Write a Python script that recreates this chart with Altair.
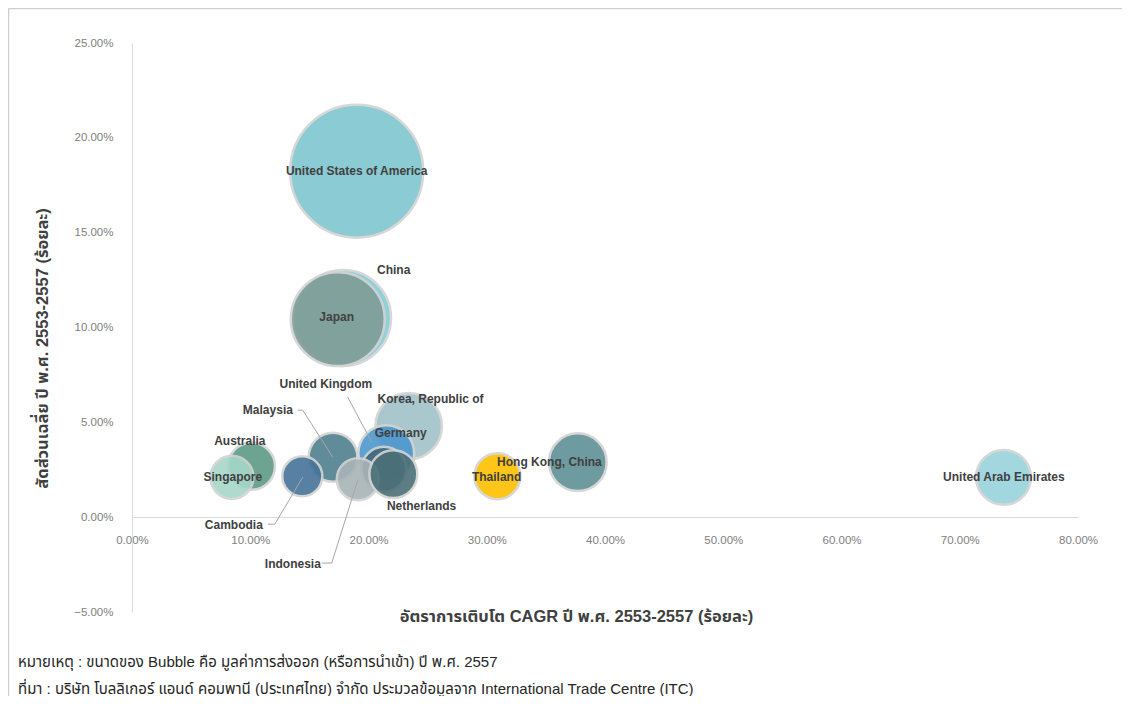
import altair as alt
import pandas as pd

# ---- data ----
countries = ["United States of America", "China", "Japan", "Korea, Republic of", "Germany",
             "Malaysia", "Cambodia", "United Kingdom", "Indonesia", "Netherlands",
             "Australia", "Singapore", "Thailand", "Hong Kong, China", "United Arab Emirates"]
cagr = [19.0, 17.85, 17.4, 23.4, 21.5, 17.0, 14.4, 21.3, 19.1, 22.1, 10.1, 8.45, 30.9, 37.7, 73.7]
share = [18.24, 10.5, 10.44, 4.8, 3.37, 3.16, 2.16, 2.53, 2.0, 2.27, 2.69, 2.1, 2.16, 2.9, 2.1]
bubble_value = [100, 51.9, 49.8, 25.0, 17.6, 13.5, 9.1, 11.4, 10.0, 13.0, 12.5, 10.5, 11.9, 18.8, 17.0]
colors = ["#7fc6cf", "#86ccd4", "#7f9c96", "#a2c1c9", "#4d97cf",
          "#4f8090", "#46739a", "#46687a", "#a8b4b7", "#4b7077",
          "#5e9a86", "#a6d8c9", "#ffc000", "#5e9196", "#98d3dd"]
label_x = [19.0, 22.13, 17.31, 25.25, 22.72, 11.49, 8.61, 16.39, 13.60, 24.49,
           9.12, 8.53, 30.83, 35.30, 73.73]
label_y = [18.24, 13.02, 10.54, 6.22, 4.43, 5.64, -0.42, 7.01, -2.48, 0.58,
           4.01, 2.11, 2.11, 2.90, 2.11]

lead_country = ["Malaysia"] * 3 + ["United Kingdom"] * 2 + ["Cambodia"] * 3 + ["Indonesia"] * 3
lead_x = [14.02, 14.44, 16.98, 18.24, 20.27, 11.49, 12.08, 14.44, 16.05, 16.89, 19.09]
lead_y = [5.64, 5.64, 3.16, 6.33, 3.95, -0.37, -0.37, 2.11, -2.42, -2.42, 1.95]
lead_seq = [0, 1, 2, 0, 1, 0, 1, 2, 0, 1, 2]

x_ticks = [0, 10, 20, 30, 40, 50, 60, 70, 80]
y_ticks = [-5, 0, 5, 10, 15, 20, 25]

x_title = "อัตราการเติบโต CAGR ปี พ.ศ. 2553-2557 (ร้อยละ)"
y_title = "สัดส่วนเฉลี่ย ปี พ.ศ. 2553-2557 (ร้อยละ)"
note_1 = "หมายเหตุ : ขนาดของ Bubble คือ มูลค่าการส่งออก (หรือการนำเข้า) ปี พ.ศ. 2557"
note_2 = "ที่มา : บริษัท โบลลิเกอร์ แอนด์ คอมพานี (ประเทศไทย) จำกัด ประมวลข้อมูลจาก International Trade Centre (ITC)"

FONT = "Liberation Sans, Arial, Noto Sans Thai, Tahoma, sans-serif"
W, H = 946, 569

df = pd.DataFrame({"country": countries, "cagr": cagr, "share": share,
                   "value": bubble_value, "lx": label_x, "ly": label_y,
                   "z": list(range(len(countries)))})
lead = pd.DataFrame({"country": lead_country, "x": lead_x, "y": lead_y, "seq": lead_seq})
one = pd.DataFrame({"k": [0]})

xs = alt.Scale(domain=[0, 80], nice=False, zero=False)
ys = alt.Scale(domain=[-5, 25], nice=False, zero=False)

x_axis = alt.Axis(values=x_ticks, labelExpr="format(datum.value, '.2f') + '%'",
                  grid=False, ticks=False, offset=-95, labelPadding=17, labelFlush=False,
                  domainColor="#d9d9d9", labelColor="#808080", labelFontSize=11.5,
                  labelFont=FONT, title=x_title, titleFont=FONT, titleFontSize=16.5,
                  titleColor="#404040", titleFontWeight="bold", titleX=444, titleY=99,
                  titleBaseline="middle", titleAnchor="middle")
y_axis = alt.Axis(values=y_ticks, labelExpr="format(datum.value, '.2f') + '%'",
                  grid=False, ticks=False, labelPadding=19, labelFlush=False,
                  domainColor="#d9d9d9", labelColor="#808080", labelFontSize=11.5,
                  labelFont=FONT, title=y_title, titleFont=FONT, titleFontSize=16.5,
                  titleColor="#404040", titleFontWeight="bold", titleX=-90, titleY=305,
                  titleBaseline="middle", titleAngle=-90, titleAnchor="middle")

bubbles = alt.Chart(df).mark_circle(opacity=0.9, stroke="#d3d3d3", strokeWidth=2.5).encode(
    x=alt.X("cagr:Q", scale=xs, axis=x_axis),
    y=alt.Y("share:Q", scale=ys, axis=y_axis),
    size=alt.Size("value:Q", scale=alt.Scale(domain=[0, 100], range=[0, 17689], zero=True), legend=None),
    color=alt.Color("country:N", scale=alt.Scale(domain=countries, range=colors), legend=None),
    order=alt.Order("z:Q"),
)

leaders = alt.Chart(lead).mark_line(color="#a6a6a6", strokeWidth=1).encode(
    x=alt.X("x:Q", scale=xs),
    y=alt.Y("y:Q", scale=ys),
    detail="country:N",
    order="seq:Q",
)

labels = alt.Chart(df).mark_text(font=FONT, fontSize=12, fontWeight="bold",
                                 color="#404040", baseline="middle", align="center").encode(
    x=alt.X("lx:Q", scale=xs),
    y=alt.Y("ly:Q", scale=ys),
    text="country:N",
)


def footnote(txt, ypix):
    return alt.Chart(one).mark_text(font=FONT, fontSize=15, color="#262626", align="left",
                                    baseline="middle", text=txt).encode(
        x=alt.value(18 - 132), y=alt.value(ypix - 43))


frame_top = alt.Chart(one).mark_rule(color="#cfcfcf", strokeWidth=1.5).encode(
    x=alt.value(8.5 - 132), x2=alt.value(1122 - 132), y=alt.value(8.5 - 43))
frame_left = alt.Chart(one).mark_rule(color="#cfcfcf", strokeWidth=1.5).encode(
    x=alt.value(8.5 - 132), y=alt.value(8.5 - 43), y2=alt.value(704 - 43))

chart = alt.layer(bubbles, leaders, labels, footnote(note_1, 662), footnote(note_2, 689),
                  frame_top, frame_left).properties(
    width=W, height=H,
    background="white",
    padding={"left": 124, "top": 35, "right": 44, "bottom": 84},
    autosize=alt.AutoSizeParams(type="none"),
).configure_view(strokeWidth=0)

chart.save("out.html", embed_options={"renderer": "svg", "actions": False})
